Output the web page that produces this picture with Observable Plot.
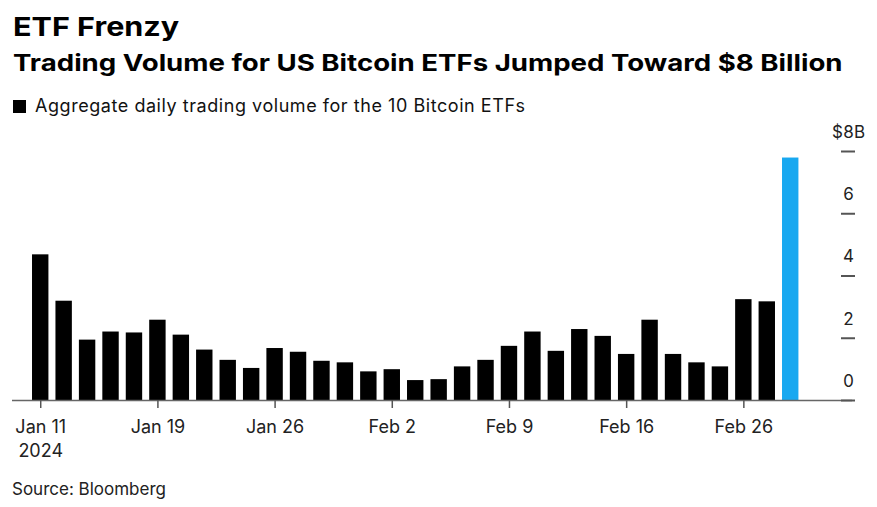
<!DOCTYPE html>
<html><head><meta charset="utf-8">
<script src="https://cdn.jsdelivr.net/npm/d3@7"></script>
<script src="https://cdn.jsdelivr.net/npm/@observablehq/plot@0.6"></script>
<style>
body{margin:0;background:#fff;font-family:Inter,"Liberation Sans",sans-serif;color:#000;width:877px;height:507px;overflow:hidden;position:relative}
.t{position:absolute;white-space:nowrap;line-height:1;transform-origin:0 0}
#title{left:13px;top:14px;font-size:26px;font-weight:700;transform:scaleX(1.175)}
#subtitle{left:13px;top:52px;font-size:23px;font-weight:700;transform:scaleX(1.2)}
#legend{left:13px;top:97px;font-size:18px;color:#111}
#legend .sw{display:inline-block;width:13px;height:13px;background:#000;margin-right:9px;vertical-align:-1px}
#legend .lt{letter-spacing:0.55px}
#source{left:12px;top:481px;font-size:17px;color:#222}
#chart{position:absolute;left:0;top:118px}
</style></head>
<body>
<div class="t" id="title">ETF Frenzy</div>
<div class="t" id="subtitle">Trading Volume for US Bitcoin ETFs Jumped Toward $8 Billion</div>
<div class="t" id="legend"><span class="sw"></span><span class="lt">Aggregate daily trading volume for the 10 Bitcoin ETFs</span></div>
<div id="chart"></div>
<div class="t" id="source">Source: Bloomberg</div>
<script>
const dates = [
  "2024-01-11","2024-01-12","2024-01-16","2024-01-17","2024-01-18","2024-01-19",
  "2024-01-22","2024-01-23","2024-01-24","2024-01-25","2024-01-26",
  "2024-01-29","2024-01-30","2024-01-31","2024-02-01","2024-02-02",
  "2024-02-05","2024-02-06","2024-02-07","2024-02-08","2024-02-09",
  "2024-02-12","2024-02-13","2024-02-14","2024-02-15","2024-02-16",
  "2024-02-20","2024-02-21","2024-02-22","2024-02-23",
  "2024-02-26","2024-02-27","2024-02-28"
];
const volumes = [
  4.68, 3.19, 1.94, 2.20, 2.17, 2.58,
  2.10, 1.62, 1.29, 1.03, 1.67,
  1.55, 1.26, 1.21, 0.92, 0.99,
  0.64, 0.67, 1.08, 1.29, 1.74,
  2.20, 1.58, 2.28, 2.06, 1.48,
  2.58, 1.48, 1.21, 1.08,
  3.24, 3.17, 7.79
];
const highlightDate = "2024-02-28";
const tickDates = ["2024-01-11","2024-01-19","2024-01-26","2024-02-02","2024-02-09","2024-02-16","2024-02-26"];
const tickLabels = ["Jan 11\n2024","Jan 19","Jan 26","Feb 2","Feb 9","Feb 16","Feb 26"];
const yTicks = [0, 2, 4, 6, 8];
const yTickLabels = ["0", "2", "4", "6", "$8B"];

const data = dates.map((d, i) => ({date: d, volume: volumes[i], highlight: d === highlightDate}));

const chart = Plot.plot({
  width: 877,
  height: 352,
  marginLeft: 12,
  marginRight: 25,
  marginTop: 33,
  marginBottom: 70,
  style: {fontFamily: "Inter, 'Liberation Sans', sans-serif", fontSize: "17px", color: "#222", background: "transparent", overflow: "visible"},
  x: {type: "band", domain: dates, paddingInner: 0.3, paddingOuter: 1.57, align: 0.272, round: false, axis: null},
  y: {domain: [0, 8], axis: null},
  color: {domain: [false, true], range: ["#000000", "#18a8f0"]},
  marks: [
    Plot.barY(data, {x: "date", y: "volume", fill: "highlight"}),
    Plot.ruleY([0], {stroke: "#666", strokeWidth: 1.5}),
    Plot.axisX({ticks: tickDates, tickFormat: d => tickLabels[tickDates.indexOf(d)], tickSize: 8, tickPadding: 8, stroke: "#555", strokeWidth: 1.5, lineHeight: 1.3, fontSize: 18, label: null}),
    Plot.axisY({anchor: "right", ticks: yTicks, tickSize: 14, dx: -12, tickFormat: () => "", stroke: "#555", strokeWidth: 2, label: null}),
    Plot.axisY({anchor: "right", ticks: yTicks, tickSize: 0, tickPadding: 0, textAnchor: "middle", dx: -4, dy: -19, tickFormat: d => yTickLabels[yTicks.indexOf(d)], fontSize: 17, label: null})
  ]
});
document.getElementById("chart").appendChild(chart);
</script>
</body></html>
